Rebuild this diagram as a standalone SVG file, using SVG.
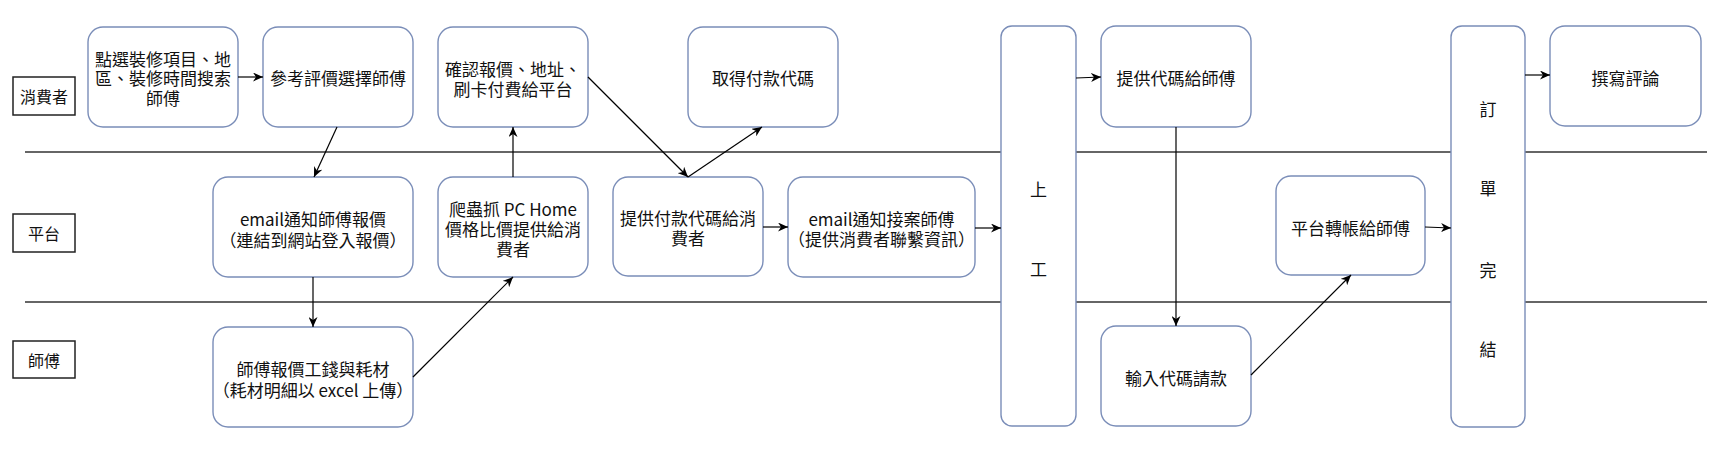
<svg xmlns="http://www.w3.org/2000/svg" width="1727" height="462" viewBox="0 0 1727 462">
<style>
.bg{fill:#ffffff}
.lane{stroke:#333333;stroke-width:1.5;fill:none}
.lbl{fill:#ffffff;stroke:#222222;stroke-width:1.5}
.nd{fill:#ffffff;stroke:#7a8db8;stroke-width:1.4}
.t{font-family:"Noto Sans CJK TC","Noto Sans",sans-serif;font-size:17px;fill:#111111;text-anchor:middle;dominant-baseline:central}
.tl{font-family:"Noto Sans CJK TC","Noto Sans",sans-serif;font-size:16px;fill:#111111;text-anchor:middle;dominant-baseline:central}
.c{stroke:#000000;stroke-width:1.2;fill:none;marker-end:url(#ah)}
</style>
<defs>
<marker id="ah" markerWidth="11" markerHeight="9" refX="10" refY="4.5" orient="auto" markerUnits="userSpaceOnUse">
<path d="M0,0 L10,4.5 L0,9 L3,4.5 Z" fill="#000000"/>
</marker>
</defs>
<rect class="bg" x="0" y="0" width="1727" height="462"/>
<g id="lanes">
<line class="lane" x1="25" y1="152" x2="1707" y2="152"/>
<line class="lane" x1="25" y1="302" x2="1707" y2="302"/>
</g>
<g id="lane-consumer"><rect class="lbl" x="13" y="77" width="62" height="38"/><text class="tl" x="44" y="96">消費者</text></g>
<g id="lane-platform"><rect class="lbl" x="13" y="214" width="62" height="38"/><text class="tl" x="44" y="233">平台</text></g>
<g id="lane-master"><rect class="lbl" x="13" y="341" width="62" height="37"/><text class="tl" x="44" y="359.5">師傅</text></g>

<g id="n-search"><rect class="nd" x="88" y="27" width="150" height="100" rx="15"/>
<text class="t" x="163" y="58">點選裝修項目、地</text><text class="t" x="163" y="77.5">區、裝修時間搜索</text><text class="t" x="163" y="97">師傅</text></g>
<g id="n-choose"><rect class="nd" x="263" y="27" width="150" height="100" rx="15"/>
<text class="t" x="338" y="77">參考評價選擇師傅</text></g>
<g id="n-confirm"><rect class="nd" x="438" y="27" width="150" height="100" rx="15"/>
<text class="t" x="513" y="68">確認報價、地址、</text><text class="t" x="513" y="88">刷卡付費給平台</text></g>
<g id="n-getcode"><rect class="nd" x="688" y="27" width="150" height="100" rx="15"/>
<text class="t" x="763" y="77">取得付款代碼</text></g>
<g id="n-start"><rect class="nd" x="1001" y="26" width="75" height="400" rx="11"/>
<text class="t" x="1038.5" y="188">上</text><text class="t" x="1038.5" y="268">工</text></g>
<g id="n-givecode"><rect class="nd" x="1101" y="26" width="150" height="101" rx="15"/>
<text class="t" x="1176" y="77">提供代碼給師傅</text></g>
<g id="n-done"><rect class="nd" x="1451" y="26" width="74" height="401" rx="11"/>
<text class="t" x="1488" y="108">訂</text><text class="t" x="1488" y="187">單</text><text class="t" x="1488" y="269">完</text><text class="t" x="1488" y="348">結</text></g>
<g id="n-review"><rect class="nd" x="1550" y="26" width="151" height="100" rx="15"/>
<text class="t" x="1625.5" y="77">撰寫評論</text></g>

<g id="n-email1"><rect class="nd" x="213" y="177" width="200" height="100" rx="15"/>
<text class="t" x="313" y="218">email通知師傅報價</text><text class="t" x="313" y="239">（連結到網站登入報價）</text></g>
<g id="n-crawl"><rect class="nd" x="438" y="177" width="150" height="100" rx="15"/>
<text class="t" x="513" y="208">爬蟲抓 PC Home</text><text class="t" x="513" y="228">價格比價提供給消</text><text class="t" x="513" y="248">費者</text></g>
<g id="n-paycode"><rect class="nd" x="613" y="177" width="150" height="99" rx="15"/>
<text class="t" x="688" y="217">提供付款代碼給消</text><text class="t" x="688" y="237">費者</text></g>
<g id="n-email2"><rect class="nd" x="788" y="177" width="187" height="100" rx="15"/>
<text class="t" x="881.5" y="218">email通知接案師傅</text><text class="t" x="881.5" y="238">（提供消費者聯繫資訊）</text></g>
<g id="n-transfer"><rect class="nd" x="1276" y="176" width="149" height="99" rx="15"/>
<text class="t" x="1350.5" y="227">平台轉帳給師傅</text></g>

<g id="n-quote"><rect class="nd" x="213" y="327" width="200" height="100" rx="15"/>
<text class="t" x="313" y="368">師傅報價工錢與耗材</text><text class="t" x="313" y="389">（耗材明細以 excel 上傳）</text></g>
<g id="n-claim"><rect class="nd" x="1101" y="326" width="150" height="100" rx="15"/>
<text class="t" x="1176" y="377">輸入代碼請款</text></g>

<g id="connectors">
<line class="c" x1="238" y1="77" x2="263" y2="77"/>
<line class="c" x1="337" y1="127" x2="314" y2="177"/>
<line class="c" x1="313" y1="277" x2="313" y2="327"/>
<line class="c" x1="413" y1="377" x2="513" y2="277"/>
<line class="c" x1="513" y1="177" x2="513" y2="127"/>
<line class="c" x1="588" y1="77" x2="688" y2="177"/>
<line class="c" x1="688" y1="177" x2="762" y2="127"/>
<line class="c" x1="763" y1="227" x2="788" y2="227"/>
<line class="c" x1="975" y1="228" x2="1001" y2="228"/>
<line class="c" x1="1076" y1="78" x2="1101" y2="77"/>
<line class="c" x1="1176" y1="127" x2="1176" y2="326"/>
<line class="c" x1="1251" y1="375" x2="1351" y2="275"/>
<line class="c" x1="1425" y1="227" x2="1451" y2="228"/>
<line class="c" x1="1525" y1="75" x2="1550" y2="75"/>
</g>
</svg>
